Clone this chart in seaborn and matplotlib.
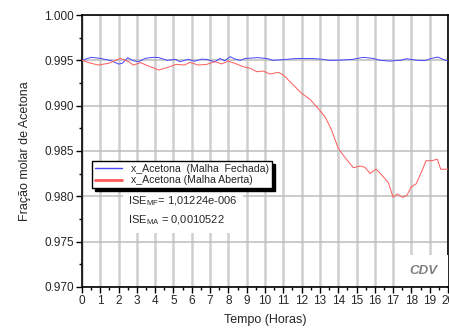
import matplotlib
matplotlib.use("Agg")
import matplotlib.pyplot as plt
import seaborn as sns
import pandas as pd
from matplotlib.ticker import MultipleLocator

# Closed-loop (Malha Fechada) acetone mole fraction over time
t_fechada = [0.0, 0.5, 1.0, 1.6, 2.0, 2.2, 2.5, 2.8, 3.1, 3.45, 3.9, 4.2, 4.65,
             5.1, 5.35, 5.8, 6.15, 6.55, 6.8, 7.25, 7.55, 7.8, 8.1, 8.35, 8.65,
             8.9, 9.6, 10.1, 10.45, 10.8, 11.7, 12.6, 13.0, 13.55, 14.1, 14.8,
             15.35, 15.9, 16.3, 16.8, 17.4, 17.75, 18.3, 18.75, 19.1, 19.45,
             19.85, 20.0]
x_fechada = [0.99500, 0.99533, 0.99522, 0.99496, 0.99459, 0.99467, 0.99529,
             0.99496, 0.99485, 0.99522, 0.99533, 0.99530, 0.99500, 0.99511,
             0.99485, 0.99511, 0.99490, 0.99514, 0.99510, 0.99485, 0.99520,
             0.99495, 0.99540, 0.99515, 0.99500, 0.99520, 0.99530, 0.99520,
             0.99500, 0.99505, 0.99520, 0.99520, 0.99514, 0.99500, 0.99502,
             0.99511, 0.99533, 0.99522, 0.99500, 0.99492, 0.99500, 0.99518,
             0.99500, 0.99497, 0.99522, 0.99536, 0.99500, 0.99495]

# Open-loop (Malha Aberta) acetone mole fraction over time
t_aberta = [0.0, 0.5, 0.9, 1.45, 2.1, 2.55, 2.8, 3.2, 3.6, 4.2, 4.65, 5.15,
            5.6, 5.9, 6.35, 6.8, 7.27, 7.63, 8.0, 8.45, 8.8, 9.2, 9.55, 9.9,
            10.27, 10.73, 11.0, 11.55, 12.0, 12.46, 12.9, 13.28, 13.64, 14.0,
            14.4, 14.83, 15.19, 15.46, 15.74, 16.07, 16.38, 16.74, 17.0,
            17.23, 17.52, 17.75, 18.0, 18.25, 18.56, 18.8, 19.1, 19.42, 19.6,
            20.0]
x_aberta = [0.99500, 0.99467, 0.99448, 0.99467, 0.99522, 0.99485, 0.99448,
            0.99474, 0.99440, 0.99393, 0.99420, 0.99456, 0.99448, 0.99478,
            0.99448, 0.99455, 0.99485, 0.99460, 0.99492, 0.99460, 0.99430,
            0.99412, 0.99374, 0.99382, 0.99349, 0.99368, 0.99338, 0.99228,
            0.99136, 0.99070, 0.98970, 0.98878, 0.98731, 0.98530, 0.98420,
            0.98315, 0.98334, 0.98320, 0.98253, 0.98300, 0.98235, 0.98151,
            0.97989, 0.98026, 0.97989, 0.98010, 0.98106, 0.98136, 0.98272,
            0.98393, 0.98393, 0.98409, 0.98299, 0.98299]

labels = ["x_Acetona  (Malha  Fechada)", "x_Acetona (Malha Aberta)"]
ise_text = ("$\\mathregular{ISE_{MF}}$= 1,01224e-006\n"
            "$\\mathregular{ISE_{MA}}$ = 0,0010522")

sns.set_theme(style="ticks")
plt.rcParams["font.family"] = ["Liberation Sans", "DejaVu Sans"]
plt.rcParams["mathtext.fontset"] = "custom"
plt.rcParams["mathtext.rm"] = "Liberation Sans"

df_f = pd.DataFrame({"Tempo": t_fechada, "x": x_fechada})
df_a = pd.DataFrame({"Tempo": t_aberta, "x": x_aberta})

fig = plt.figure(figsize=(4.49, 3.29), dpi=100)
ax = fig.add_axes([0.1826, 0.1277, 0.8152, 0.8267])

sns.lineplot(data=df_f, x="Tempo", y="x", ax=ax, color="#4646ff",
             linewidth=0.7, label=labels[0], zorder=3)
sns.lineplot(data=df_a, x="Tempo", y="x", ax=ax, color="#ff5a5a",
             linewidth=0.7, label=labels[1], zorder=3)

ax.set_xlim(0, 20)
ax.set_ylim(0.970, 1.000)
ax.xaxis.set_major_locator(MultipleLocator(1))
ax.xaxis.set_minor_locator(MultipleLocator(0.5))
ax.yaxis.set_major_locator(MultipleLocator(0.005))
ax.yaxis.set_minor_locator(MultipleLocator(0.0025))
ax.yaxis.set_major_formatter(matplotlib.ticker.FormatStrFormatter("%.3f"))

ax.tick_params(axis="both", which="major", direction="out", length=4,
               width=1, labelsize=8.5, color="black", pad=2)
ax.tick_params(axis="both", which="minor", direction="out", length=2,
               width=1, color="black")

ax.grid(axis="x", which="major", color="#cfcfcf", linewidth=1.8, zorder=0)
ax.grid(axis="y", which="major", color="#bdbdbd", linewidth=1.1, zorder=0)
ax.set_axisbelow(True)

for side in ["left", "right", "top", "bottom"]:
    ax.spines[side].set_visible(True)
    ax.spines[side].set_color("black")
    ax.spines[side].set_linewidth(1.2)

ax.set_xlabel("Tempo (Horas)", fontsize=9, labelpad=5)
ax.set_ylabel("Fração molar de Acetona", fontsize=9, labelpad=9)

leg = ax.legend(loc="upper left", bbox_to_anchor=(0.027, 0.463),
                borderaxespad=0, fontsize=7.6, frameon=True, fancybox=False,
                shadow={"color": "black", "alpha": 1.0, "ox": 2, "oy": -2},
                handlelength=2.6, handletextpad=0.9, labelspacing=0.15,
                borderpad=0.25)
leg.get_frame().set_edgecolor("black")
leg.get_frame().set_linewidth(1.0)
leg.get_lines()[0].set_linewidth(1.0)
leg.get_lines()[1].set_linewidth(2.0)
leg.set_zorder(5)

ax.text(0.126, 0.279, ise_text, transform=ax.transAxes, fontsize=8,
        ha="left", va="center", linespacing=1.55, zorder=4,
        bbox=dict(facecolor="white", edgecolor="none", pad=4))

ax.text(0.934, 0.06, "CDV", transform=ax.transAxes, fontsize=9.5,
        style="italic", fontweight="bold", color="#808080",
        ha="center", va="center", zorder=4,
        bbox=dict(facecolor="white", edgecolor="none", pad=7))

fig.savefig("out.png", dpi=100)
